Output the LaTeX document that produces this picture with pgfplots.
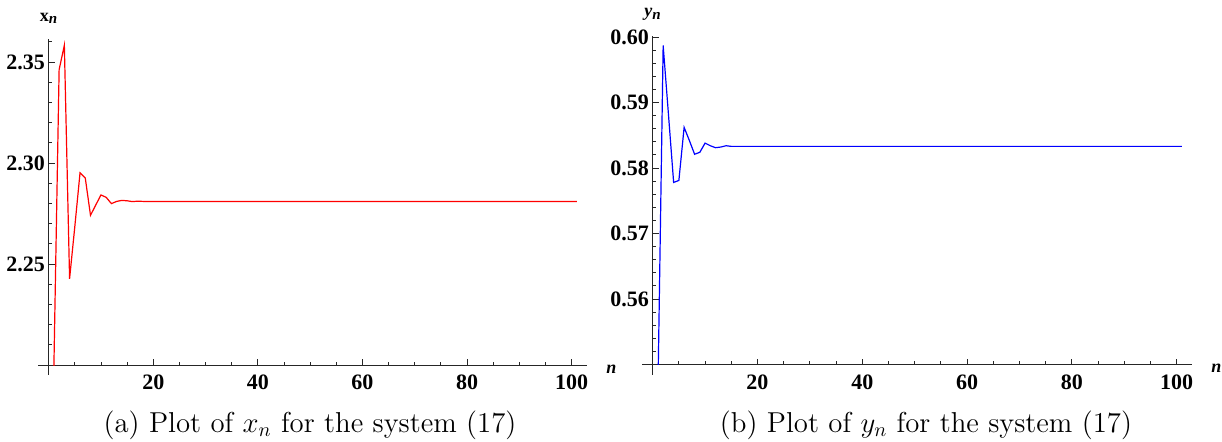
\documentclass[border=0pt]{standalone}
\usepackage{fontspec}
\usepackage{pgfplots}
\pgfplotsset{compat=1.18}
\newfontfamily\tmr{Liberation Serif}

\pgfplotsset{
  mma/.style={
    scale only axis, anchor=south west,
    xmin=-2, xmax=103,
    axis x line=bottom, axis y line=middle,
    axis line style={-, draw=black!85, line width=0.5pt},
    tick align=inside,
    major tick length=3pt, minor tick length=1.75pt,
    every tick/.style={draw=black!85, line width=0.45pt},
    xtick={20,40,60,80,100},
    minor xtick={5,10,15,20,25,30,35,40,45,50,55,60,65,70,75,80,85,90,95,100},
    tick label style={font=\tmr\bfseries\fontsize{11}{12}\selectfont},
    /pgf/number format/assume math mode=true,
    xticklabel style={yshift=-1.5pt},
    yticklabel style={xshift=1.6pt, /pgf/number format/.cd, fixed, fixed zerofill, precision=2},
    every axis x label/.style={at={(axis description cs:1,0)}, anchor=west, xshift=6pt, yshift=-2pt,
      font=\tmr\bfseries\itshape\fontsize{9}{10}\selectfont},
    every axis y label/.style={at={(axis description cs:0.019,1)}, anchor=south, yshift=4pt,
      font=\tmr\bfseries\fontsize{9}{10}\selectfont},
    every axis plot/.append style={line width=0.6pt},
  }
}

\begin{document}
\begin{tikzpicture}
\useasboundingbox (0,0) rectangle (611pt,220.5pt);

% (a) x_n
\begin{axis}[mma,
  at={(19.1pt,38pt)}, width=274.6pt, height=163pt,
  ymin=2.20, ymax=2.3614,
  ytick={2.25,2.30,2.35},
  minor ytick={2.21,2.22,2.23,2.24,2.26,2.27,2.28,2.29,2.31,2.32,2.33,2.34,2.36},
  xlabel={n}, ylabel={x\raisebox{-0.35ex}{\fontsize{7.5}{8}\selectfont\itshape n}},
]
\addplot[red] coordinates {
 (1,2.199) (2,2.3462) (3,2.3583) (4,2.2427) (5,2.2685) (6,2.2952) (7,2.2926)
 (8,2.2741) (9,2.2792) (10,2.2842) (11,2.2830) (12,2.2799) (13,2.2810)
 (14,2.2815) (15,2.2813) (16,2.2809) (17,2.2811) (18,2.2810) (19,2.2810)
 (20,2.2810) (40,2.2810) (60,2.2810) (80,2.2810) (101,2.2810)};
\end{axis}
\draw[black!85, line width=0.5pt] (24.33pt,38pt) -- (24.33pt,33pt);

% (b) y_n
\begin{axis}[mma,
  at={(321.1pt,38.25pt)}, width=275.1pt, height=164.4pt,
  ymin=0.55, ymax=0.6002,
  ytick={0.56,0.57,0.58,0.59,0.60},
  minor ytick={0.552,0.554,0.556,0.558,0.562,0.564,0.566,0.568,0.572,0.574,0.576,0.578,
               0.582,0.584,0.586,0.588,0.592,0.594,0.596,0.598},
  xlabel={n}, ylabel={\itshape y\raisebox{-0.35ex}{\fontsize{7.5}{8}\selectfont\itshape n}},
]
\addplot[blue] coordinates {
 (1,0.546) (2,0.5987) (3,0.5883) (4,0.5778) (5,0.5781) (6,0.5862) (7,0.5842)
 (8,0.5821) (9,0.5824) (10,0.5838) (11,0.5834) (12,0.5831) (13,0.5832)
 (14,0.5834) (15,0.5833) (16,0.5833) (17,0.5833) (18,0.5833) (20,0.5833)
 (40,0.5833) (60,0.5833) (80,0.5833) (101,0.5833)};
\end{axis}
\draw[black!85, line width=0.5pt] (326.34pt,38.25pt) -- (326.34pt,33.25pt);

\node[anchor=base, inner sep=0pt] at (155pt,4.2pt) {\fontsize{14.4}{17}\selectfont (a) Plot of $x_n$ for the system (17)};
\node[anchor=base, inner sep=0pt] at (463pt,4.2pt) {\fontsize{14.4}{17}\selectfont (b) Plot of $y_n$ for the system (17)};
\end{tikzpicture}
\end{document}
